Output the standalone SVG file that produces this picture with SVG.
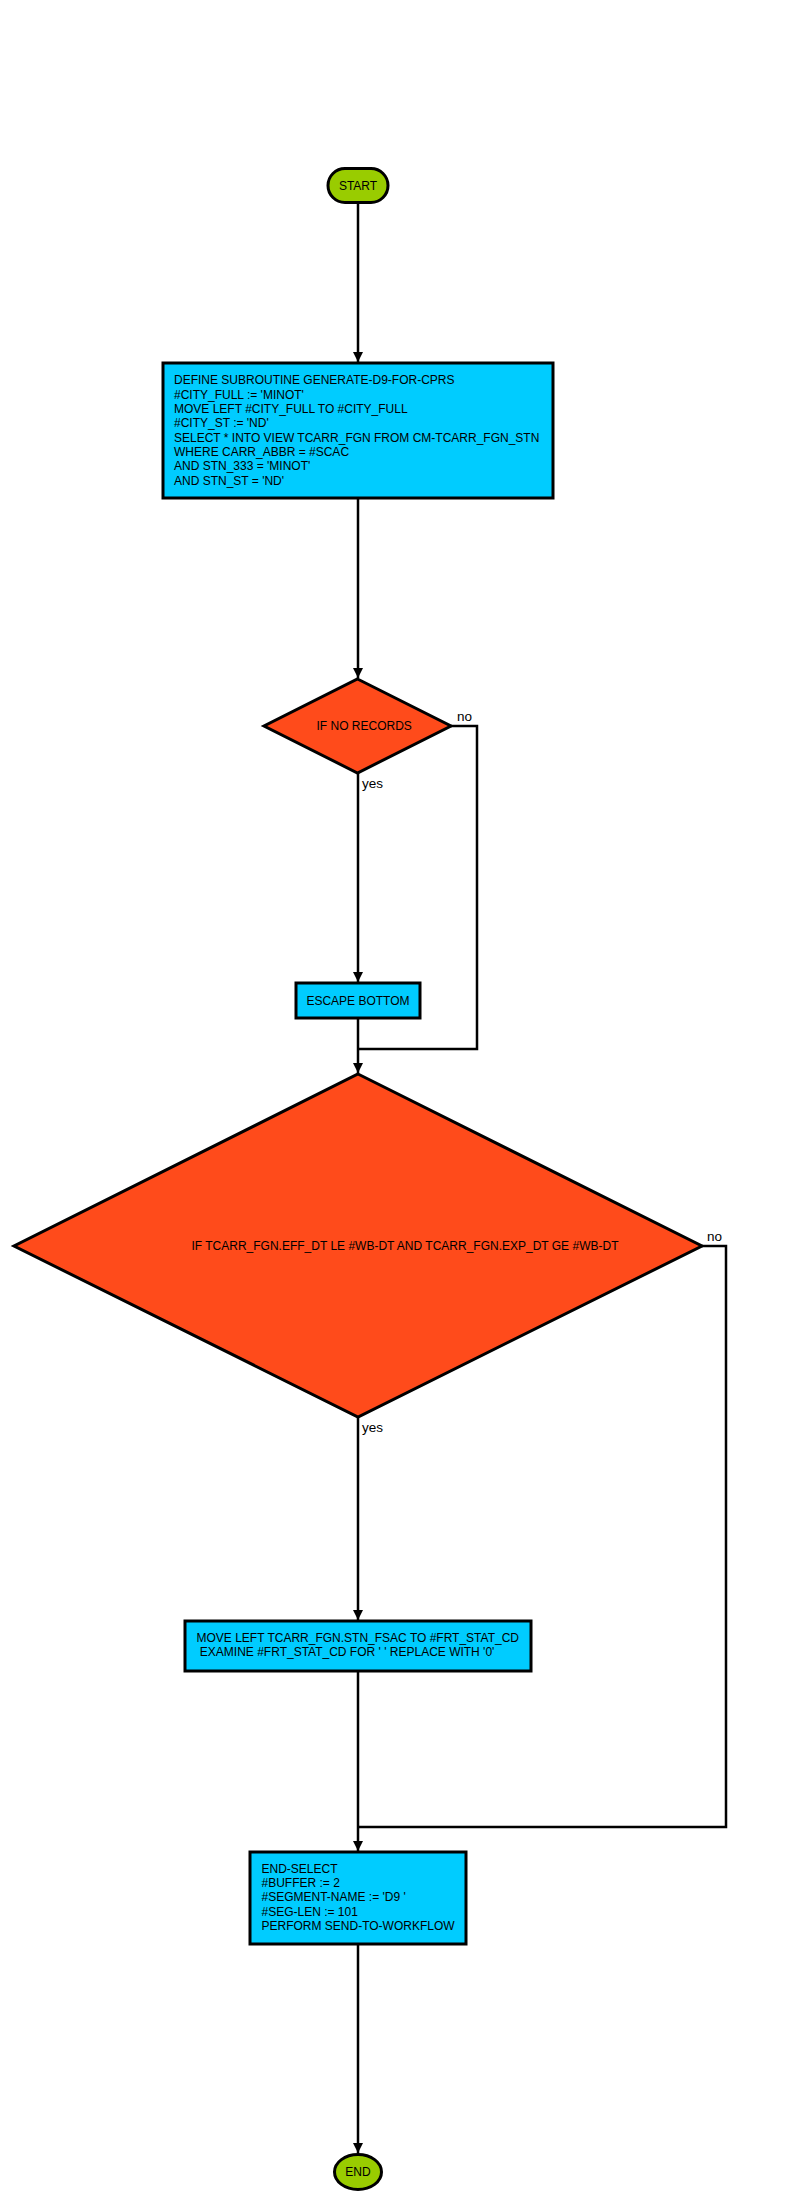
<svg xmlns="http://www.w3.org/2000/svg" width="800" height="2200" viewBox="0 0 800 2200">
  <style>
    text { font-family: "Liberation Sans", Arial, sans-serif; font-size: 12px; fill: #000; }
    .lbl { font-size: 13.5px; }
    .term { fill: #99CC00; stroke: #000; stroke-width: 3; }
    .proc { fill: #00CCFF; stroke: #000; stroke-width: 3; }
    .dec { fill: #FF4B1B; stroke: #000; stroke-width: 3; stroke-linejoin: miter; }
    .edge { fill: none; stroke: #000; stroke-width: 2.5; }
    .mid { text-anchor: middle; }
  </style>
  <defs>
    <marker id="arrow" viewBox="0 0 10 10" refX="10" refY="5" markerWidth="4" markerHeight="4" orient="auto" markerUnits="strokeWidth">
      <path d="M0,0 L10,5 L0,10 z" fill="#000"/>
    </marker>
  </defs>
  <rect width="800" height="2200" fill="#fff"/>

  <!-- connectors -->
  <g id="connectors">
    <path class="edge" d="M358,203 V362" marker-end="url(#arrow)"/>
    <path class="edge" d="M358,498 V678" marker-end="url(#arrow)"/>
    <path class="edge" d="M358,773 V982" marker-end="url(#arrow)"/>
    <path class="edge" d="M451,726 H477 V1049 H358"/>
    <path class="edge" d="M358,1018 V1073" marker-end="url(#arrow)"/>
    <path class="edge" d="M358,1417 V1620" marker-end="url(#arrow)"/>
    <path class="edge" d="M702,1246 H726 V1827 H358"/>
    <path class="edge" d="M358,1671 V1851" marker-end="url(#arrow)"/>
    <path class="edge" d="M358,1944 V2153" marker-end="url(#arrow)"/>
    <text class="lbl" x="457" y="721">no</text>
    <text class="lbl" x="362" y="788">yes</text>
    <text class="lbl" x="707" y="1241">no</text>
    <text class="lbl" x="362" y="1432">yes</text>
  </g>

  <g id="start">
    <rect class="term" x="328" y="168.5" width="60" height="34" rx="17" ry="17"/>
    <text class="mid" x="358" y="189.5">START</text>
  </g>

  <g id="define-subroutine">
    <rect class="proc" x="163" y="363" width="390" height="135"/>
    <text x="174" y="384.3">DEFINE SUBROUTINE GENERATE-D9-FOR-CPRS</text>
    <text x="174" y="398.6">#CITY_FULL := 'MINOT'</text>
    <text x="174" y="413">MOVE LEFT #CITY_FULL TO #CITY_FULL</text>
    <text x="174" y="427.3">#CITY_ST := 'ND'</text>
    <text x="174" y="441.6">SELECT * INTO VIEW TCARR_FGN FROM CM-TCARR_FGN_STN</text>
    <text x="174" y="456">WHERE CARR_ABBR = #SCAC</text>
    <text x="174" y="470.3">AND STN_333 = 'MINOT'</text>
    <text x="174" y="484.6">AND STN_ST = 'ND'</text>
  </g>

  <g id="if-no-records">
    <polygon class="dec" points="357.5,679 451,726 357.5,773 264,726"/>
    <text x="316.5" y="730">IF NO RECORDS</text>
  </g>

  <g id="escape-bottom">
    <rect class="proc" x="296" y="983" width="124" height="35"/>
    <text class="mid" x="358" y="1005">ESCAPE BOTTOM</text>
  </g>

  <g id="if-date-range">
    <polygon class="dec" points="358,1074 702,1246 358,1417 14,1246"/>
    <text x="191.5" y="1250">IF TCARR_FGN.EFF_DT LE #WB-DT AND TCARR_FGN.EXP_DT GE #WB-DT</text>
  </g>

  <g id="move-fsac">
    <rect class="proc" x="185" y="1621" width="346" height="50"/>
    <text x="196.5" y="1642.3">MOVE LEFT TCARR_FGN.STN_FSAC TO #FRT_STAT_CD</text>
    <text x="196.5" y="1656.3" xml:space="preserve"> EXAMINE #FRT_STAT_CD FOR ' ' REPLACE WITH '0'</text>
  </g>

  <g id="end-select">
    <rect class="proc" x="250" y="1852" width="216" height="92"/>
    <text x="261.5" y="1872.7">END-SELECT</text>
    <text x="261.5" y="1887">#BUFFER := 2</text>
    <text x="261.5" y="1901.3">#SEGMENT-NAME := 'D9 '</text>
    <text x="261.5" y="1915.6">#SEG-LEN := 101</text>
    <text x="261.5" y="1930">PERFORM SEND-TO-WORKFLOW</text>
  </g>

  <g id="end">
    <ellipse class="term" cx="358" cy="2172" rx="23.5" ry="17.5"/>
    <text class="mid" x="358" y="2176">END</text>
  </g>
</svg>
